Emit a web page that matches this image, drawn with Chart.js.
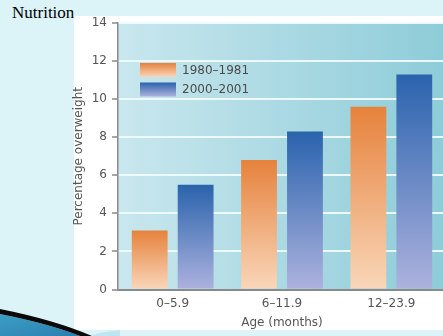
<!DOCTYPE html>
<html>
<head>
<meta charset="utf-8">
<script src="https://cdn.jsdelivr.net/npm/chart.js@4/dist/chart.umd.min.js"></script>
<style>
  html, body { margin: 0; padding: 0; width: 443px; height: 336px; overflow: hidden; background: #dcf3f8; }
  #panel { position: absolute; left: 74px; top: 16px; width: 380px; height: 314px; background: #ffffff; }
  #title { position: absolute; left: 12px; top: 3px; font-family: "Liberation Serif", "Times New Roman", serif; font-size: 17px; color: #000; }
  #swoosh { position: absolute; left: 0; top: 300px; }
  #c { position: absolute; left: 0; top: 0; }
</style>
</head>
<body>
<div id="panel"></div>
<svg id="swoosh" width="120" height="36" viewBox="0 0 120 36">
  <defs>
    <linearGradient id="sg" x1="0" y1="0" x2="1" y2="1">
      <stop offset="0" stop-color="#3c9fc4"/>
      <stop offset="1" stop-color="#2a7fb0"/>
    </linearGradient>
  </defs>
  <path d="M0,14 Q50,24 80,36 L0,36 Z" fill="url(#sg)"/>
  <path d="M0,9 Q55,20 92,36 L80,36 Q50,24 0,14 Z" fill="#0a0a0a"/>
  <path d="M92,36 Q95,33 120,30 L120,36 Z" fill="#bfe6f0"/>
</svg>
<div id="title">Nutrition</div>
<canvas id="c" width="450" height="336"></canvas>
<script>
const categories = ["0–5.9", "6–11.9", "12–23.9"];
const seriesNames = ["1980–1981", "2000–2001"];
const values1980 = [3.1, 6.8, 9.6];
const values2000 = [5.5, 8.3, 11.3];
const yTicks = [0, 2, 4, 6, 8, 10, 12, 14];

const gradStops = [
  ["#e6823c", "#f9d7ba"],
  ["#2a63ad", "#adb2de"]
];

function barGradient(stops) {
  return function(ctx) {
    const chart = ctx.chart;
    const ca = chart.chartArea;
    if (!ca || ctx.type !== 'data') return stops[0];
    const ys = chart.scales.y;
    const top = ys.getPixelForValue(ctx.parsed.y);
    const base = ys.getPixelForValue(0);
    const g = chart.ctx.createLinearGradient(0, top, 0, base);
    g.addColorStop(0, stops[0]);
    g.addColorStop(1, stops[1]);
    return g;
  };
}

const plotBg = {
  id: 'plotBg',
  beforeDraw(chart) {
    const {ctx, chartArea: a} = chart;
    const g = ctx.createLinearGradient(a.left, 0, a.right, 0);
    g.addColorStop(0, "#c9e7ee");
    g.addColorStop(1, "#8dccd8");
    ctx.save();
    ctx.fillStyle = g;
    ctx.fillRect(a.left, a.top, a.right - a.left, a.bottom - a.top);
    ctx.restore();
  }
};

const FAMILY = "'DejaVu Sans', Verdana, sans-serif";

const innerLegend = {
  id: 'innerLegend',
  afterDatasetsDraw(chart) {
    const ctx = chart.ctx;
    const a = chart.chartArea;
    const x0 = a.left + 22, w = 36, h = 14;
    const ys = [63, 82.5];
    ctx.save();
    chart.data.datasets.forEach((ds, i) => {
      const y = ys[i];
      const g = ctx.createLinearGradient(0, y, 0, y + h);
      g.addColorStop(0, gradStops[i][0]);
      g.addColorStop(1, gradStops[i][1]);
      ctx.fillStyle = g;
      ctx.fillRect(x0, y, w, h);
      ctx.fillStyle = "#4a4a4a";
      ctx.font = "12px " + FAMILY;
      ctx.textBaseline = "middle";
      ctx.textAlign = "left";
      ctx.fillText(ds.label, x0 + w + 6, y + h / 2 + 0.5);
    });
    ctx.restore();
  }
};

const font = { family: FAMILY, size: 12 };

new Chart(document.getElementById('c'), {
  type: 'bar',
  data: {
    labels: categories,
    datasets: [
      { label: seriesNames[0], data: values1980, backgroundColor: barGradient(gradStops[0]), borderWidth: 0 },
      { label: seriesNames[1], data: values2000, backgroundColor: barGradient(gradStops[1]), borderWidth: 0 }
    ]
  },
  options: {
    responsive: false,
    animation: false,
    devicePixelRatio: 1,
    datasets: { bar: { categoryPercentage: 0.84, barPercentage: 0.78 } },
    layout: { padding: { left: 70, top: 23, right: 4, bottom: 6 } },
    plugins: { legend: { display: false }, tooltip: { enabled: false } },
    scales: {
      x: {
        grid: { display: false, drawTicks: false },
        border: { display: true, color: "#8a8a8a", width: 1.5 },
        ticks: { color: "#555", font: font, padding: 7 },
        title: { display: true, text: "Age (months)", color: "#555", font: font, padding: { top: 0, bottom: 0 } },
        afterFit(s) { s.height = 40.5; }
      },
      y: {
        min: 0, max: 14,
        afterBuildTicks(s) { s.ticks = yTicks.map(v => ({ value: v })); },
        grid: {
          color: (c) => c.tick && c.tick.value === 0 ? "#8a8a8a" : "rgba(240,250,252,0.95)",
          lineWidth: 2,
          drawTicks: true,
          tickLength: 6,
          tickColor: "#8a8a8a",
          tickWidth: 1.5
        },
        border: { display: true, color: "#8a8a8a", width: 1.5 },
        ticks: { color: "#555", font: font, padding: 5 },
        title: { display: true, text: "Percentage overweight", color: "#555", font: font, padding: { top: 1.5, bottom: 0 } },
        afterFit(s) { s.width = 48; }
      }
    }
  },
  plugins: [plotBg, innerLegend]
});
</script>
</body>
</html>
